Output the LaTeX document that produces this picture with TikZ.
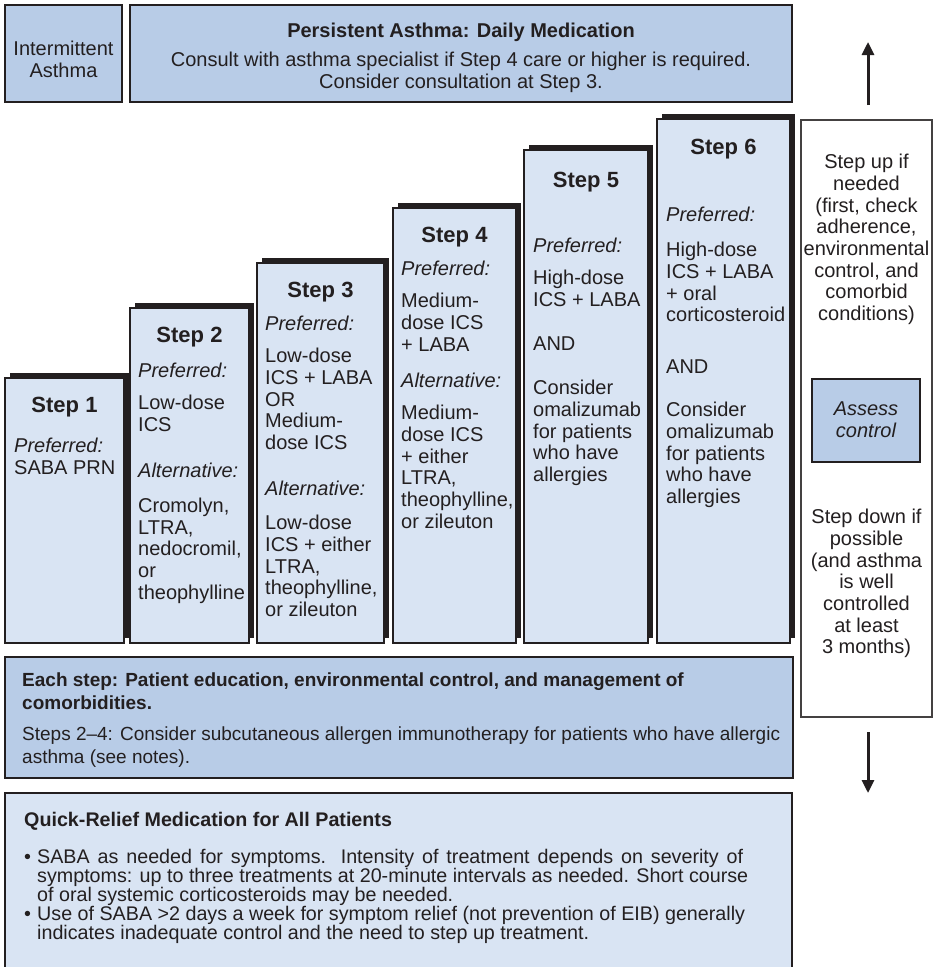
\documentclass[tikz,border=0pt]{standalone}
\usepackage{fontspec}
\setmainfont{Liberation Sans}
\usetikzlibrary{arrows.meta,fit}
\definecolor{stepfill}{RGB}{217,228,243}
\definecolor{topfill}{RGB}{184,204,231}
\definecolor{edgec}{RGB}{35,31,32}
\definecolor{shadowc}{RGB}{35,31,32}
\definecolor{txtc}{RGB}{35,31,32}
\newcommand{\bodyfs}{\fontsize{20pt}{21.7pt}\selectfont}
\newcommand{\headfs}{\fontsize{22pt}{24pt}\selectfont\bfseries}
\newcommand{\eachfs}{\fontsize{19pt}{23pt}\selectfont}
\newcommand{\quickfs}{\fontsize{19.7pt}{19pt}\selectfont}
\newcommand{\topstrut}{\rule{0pt}{15pt}}
\newcommand{\mkstep}[5]{%
  \fill[shadowc] (#2+5,#3-5) rectangle (#4+5,#5-5);
  \node[stepbox, fit={(#2,#3)(#4,#5)}] (#1) {};
}
\tikzset{
  stepbox/.style={draw=edgec, fill=stepfill, line width=1.4pt, inner sep=0pt},
  topbox/.style={draw=edgec, fill=topfill, line width=1.4pt, inner sep=0pt},
  sidebox/.style={draw=edgec!85, fill=white, line width=1.1pt, inner sep=0pt},
  body/.style={text=txtc, inner sep=0pt, anchor=north west, yshift=15pt, align=left, font=\bodyfs, execute at begin node=\topstrut},
  ctext/.style={text=txtc, inner sep=0pt, anchor=north, yshift=15pt, align=center, font=\bodyfs, execute at begin node=\topstrut},
  head/.style={text=txtc, inner sep=0pt, anchor=base, font=\headfs},
  bigarrow/.style={draw=edgec, line width=3pt, -{Triangle[length=13pt,width=12pt]}},
}
\begin{document}
\begin{tikzpicture}[x=1pt,y=-1pt]
\useasboundingbox (0,0) rectangle (936,967);
\clip (0,0) rectangle (936,967);
\fill[white] (0,0) rectangle (936,967);

% ---- top header boxes
\node[topbox, fit={(5,5)(122,102)}] (inter) {};
\node[topbox, fit={(130,5)(792,102)}] (pers) {};
\node[ctext] (intertxt) at (63.5,56) {Intermittent\\Asthma};
\node[ctext] (perstxt) at (461,38) {\textbf{Persistent Asthma: Daily Medication}\\[7.3pt]Consult with asthma specialist if Step 4 care or higher is required.\\Consider consultation at Step 3.};

% ---- step boxes
\mkstep{s1}{5}{378}{124}{643}
\mkstep{s2}{130}{308}{249}{643}
\mkstep{s3}{257}{263}{384}{643}
\mkstep{s4}{393}{208}{516}{643}
\mkstep{s5}{524}{150}{648}{643}
\mkstep{s6}{657}{119}{790}{643}

\node[head] (h1) at (64.5,412) {Step 1};
\node[head] (h2) at (189.5,342) {Step 2};
\node[head] (h3) at (320.5,297) {Step 3};
\node[head] (h4) at (454.5,242) {Step 4};
\node[head] (h5) at (586,187) {Step 5};
\node[head] (h6) at (723.5,154) {Step 6};

\node[body] (b1) at (14,453) {\textit{Preferred:}\\SABA PRN};
\node[body] (b2) at (138,378) {\textit{Preferred:}\\[10.3pt]Low-dose\\ICS\\[24.3pt]\textit{Alternative:}\\[13.3pt]Cromolyn,\\LTRA,\\nedocromil,\\or\\theophylline};
\node[body] (b3) at (265,331) {\textit{Preferred:}\\[10.3pt]Low-dose\\ICS + LABA\\OR\\Medium-\\dose ICS\\[24.5pt]\textit{Alternative:}\\[12.3pt]Low-dose\\ICS + either\\LTRA,\\theophylline,\\or zileuton};
\node[body] (b4) at (401,276) {\textit{Preferred:}\\[10.3pt]Medium-\\dose ICS\\+ LABA\\[14.9pt]\textit{Alternative:}\\[10.3pt]Medium-\\dose ICS\\+ either\\LTRA,\\theophylline,\\or zileuton};
\node[body] (b5) at (533,253) {\textit{Preferred:}\\[10.3pt]High-dose\\ICS + LABA\\[22.6pt]AND\\[22.3pt]Consider\\omalizumab\\for patients\\who have\\allergies};
\node[body] (b6) at (666,222) {\textit{Preferred:}\\[13.3pt]High-dose\\ICS + LABA\\+ oral\\corticosteroid\\[30.3pt]AND\\[21.3pt]Consider\\omalizumab\\for patients\\who have\\allergies};

% ---- right-hand side box
\node[sidebox, fit={(801,120)(932,717)}] (side) {};
\node[topbox, line width=1.1pt, fit={(812,379)(920,462)}] (assess) {};
\node[ctext, font=\bodyfs\itshape] (asstxt) at (866,417) {Assess\\control};
\node[ctext] (uptxt) at (866.5,169) {Step up if\\needed\\(first, check\\adherence,\\environmental\\control, and\\comorbid\\conditions)};
\node[ctext] (downtxt) at (866.5,524) {Step down if\\possible\\(and asthma\\is well\\controlled\\at least\\3 months)};

\coordinate (upS) at (868,105);
\coordinate (upE) at (868,42);
\coordinate (dnS) at (868,732);
\coordinate (dnE) at (868,793);
\draw[bigarrow] (upS) -- (upE);
\draw[bigarrow] (dnS) -- (dnE);

% ---- bottom boxes
\node[topbox, fit={(5,657)(793,778)}] (each) {};
\node[body, font=\eachfs] (eachtxt) at (22,688) {\textbf{Each step: Patient education, environmental control, and management of}\\\textbf{comorbidities.}\\[8pt]Steps 2–4: Consider subcutaneous allergen immunotherapy for patients who have allergic\\asthma (see notes).};

\node[stepbox, fit={(5,793)(792,990)}] (quick) {};
\node[body, font=\quickfs] (qhead) at (24,826) {\textbf{Quick-Relief Medication for All Patients}};
\node[body, font=\quickfs] (qlist) at (24,864) {\makebox[13pt][l]{•}\makebox[706pt][s]{SABA as needed for symptoms. Intensity of treatment depends on severity of}\\\hspace*{13pt}symptoms: up to three treatments at 20-minute intervals as needed. Short course\\\hspace*{13pt}of oral systemic corticosteroids may be needed.\\\makebox[13pt][l]{•}Use of SABA >2 days a week for symptom relief (not prevention of EIB) generally\\\hspace*{13pt}indicates inadequate control and the need to step up treatment.};
\end{tikzpicture}
\end{document}
